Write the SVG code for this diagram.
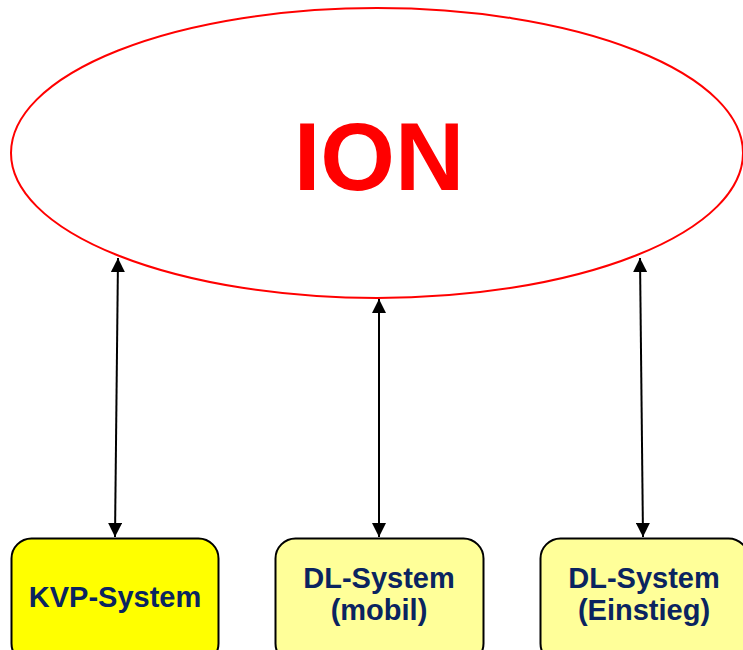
<svg xmlns="http://www.w3.org/2000/svg" width="743" height="650" viewBox="0 0 743 650">
<defs>
<style>
.box{stroke:#000;stroke-width:2}
.lbl{font-family:"Liberation Sans",Arial,sans-serif;font-weight:bold;font-size:29px;fill:#0a2460;text-anchor:middle}
.conn{stroke:#000;stroke-width:2;fill:none;marker-start:url(#ah);marker-end:url(#ah)}
</style>
<marker id="ah" viewBox="0 0 10 10" refX="10" refY="5" markerWidth="7.5" markerHeight="7" orient="auto-start-reverse" markerUnits="strokeWidth">
<path d="M0,0 L10,5 L0,10 Z" fill="#000"/>
</marker>
</defs>
<rect width="743" height="650" fill="#fff"/>
<g id="ion">
<ellipse cx="377" cy="153" rx="366" ry="145" fill="#fff" stroke="#f00" stroke-width="2"/>
<text x="379" y="190" font-family="'Liberation Sans',Arial,sans-serif" font-weight="bold" font-size="96" fill="#f00" text-anchor="middle">ION</text>
</g>
<g id="connectors">
<line class="conn" x1="118" y1="258" x2="115" y2="537"/>
<line class="conn" x1="379" y1="299" x2="379" y2="537"/>
<line class="conn" x1="640" y1="258" x2="643" y2="537"/>
</g>
<g id="kvp">
<rect class="box" x="11.5" y="538.5" width="207" height="125" rx="20" fill="#ffff00"/>
<text class="lbl" x="115" y="607">KVP-System</text>
</g>
<g id="dl-mobil">
<rect class="box" x="275.5" y="538.5" width="208" height="125" rx="20" fill="#ffff99"/>
<text class="lbl" x="379" y="588">DL-System</text>
<text class="lbl" x="379" y="620">(mobil)</text>
</g>
<g id="dl-einstieg">
<rect class="box" x="540.5" y="538.5" width="208" height="125" rx="20" fill="#ffff99"/>
<text class="lbl" x="644" y="588">DL-System</text>
<text class="lbl" x="644" y="620">(Einstieg)</text>
</g>
</svg>
